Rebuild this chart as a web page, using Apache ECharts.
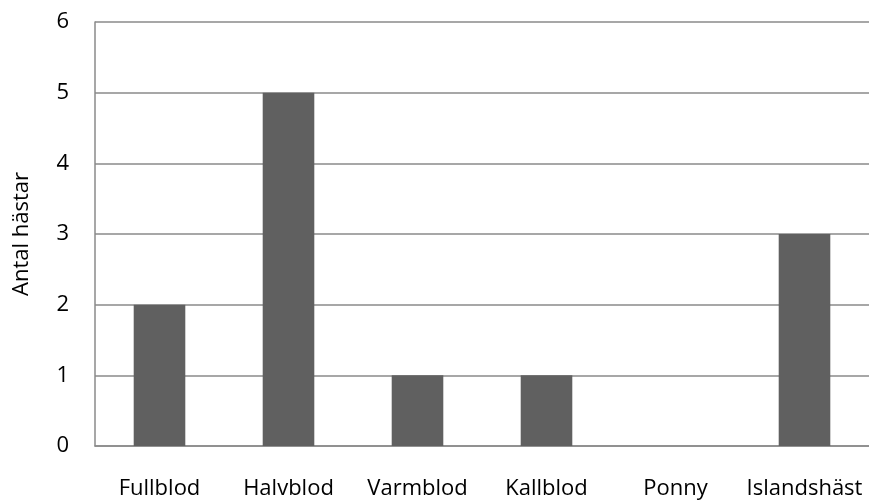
<!DOCTYPE html>
<html>
<head>
<meta charset="utf-8">
<script src="https://cdn.jsdelivr.net/npm/echarts@6/dist/echarts.min.js"></script>
<style>
  html, body { margin: 0; padding: 0; background: #fff; }
  #chart { width: 869px; height: 501px; }
</style>
</head>
<body>
<div id="chart"></div>
<script>
// Horse breeds and number of horses per breed
const categories = ['Fullblod', 'Halvblod', 'Varmblod', 'Kallblod', 'Ponny', 'Islandshäst'];
const horseCounts = [2, 5, 1, 1, 0, 3];
const yAxisTitle = 'Antal hästar';

const font = '"Open Sans", "Liberation Sans", sans-serif';
const chart = echarts.init(document.getElementById('chart'), null, { renderer: 'canvas' });

chart.setOption({
  animation: false,
  backgroundColor: '#ffffff',
  grid: { left: 95, right: 0, top: 22, bottom: 55, containLabel: false },
  xAxis: {
    type: 'category',
    data: categories,
    axisLine: { show: true, lineStyle: { color: '#8a8a8a', width: 1.5 } },
    axisTick: { show: false },
    axisLabel: { color: '#000', fontFamily: font, fontSize: 22, margin: 32, interval: 0 }
  },
  yAxis: {
    type: 'value',
    min: 0,
    max: 6,
    interval: 1,
    name: yAxisTitle,
    nameLocation: 'middle',
    nameGap: 62,
    nameRotate: 90,
    nameTextStyle: { color: '#000', fontFamily: font, fontSize: 22 },
    axisLine: { show: true, lineStyle: { color: '#8a8a8a', width: 1.5 } },
    axisTick: { show: false },
    axisLabel: { color: '#000', fontFamily: font, fontSize: 22, margin: 26 },
    splitLine: { show: true, lineStyle: { color: '#8a8a8a', width: 1.5 } }
  },
  series: [{
    type: 'bar',
    data: horseCounts,
    barWidth: '40%',
    itemStyle: { color: '#606060' }
  }]
});
</script>
</body>
</html>
